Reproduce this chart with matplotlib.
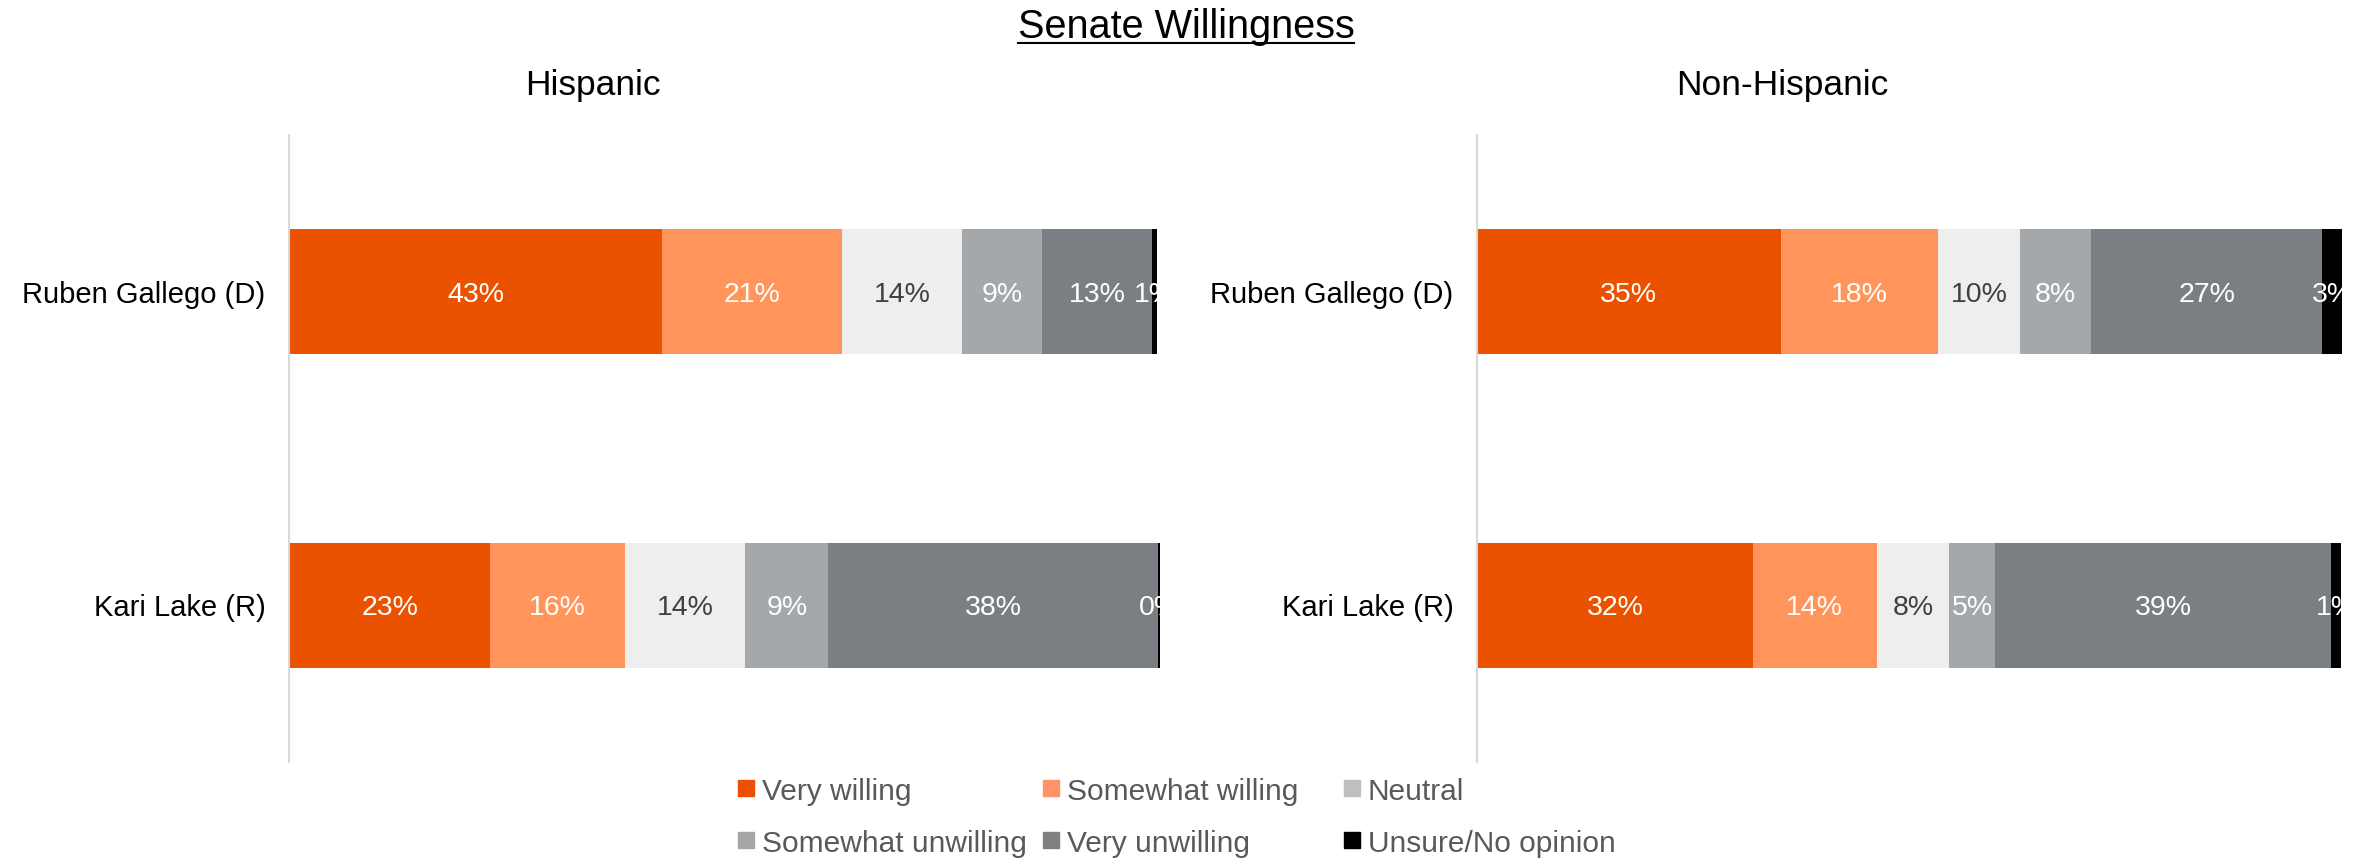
import matplotlib
matplotlib.use("Agg")
import matplotlib.pyplot as plt
import numpy as np
from matplotlib.patches import Rectangle
from matplotlib.lines import Line2D

plt.rcParams['font.family'] = ['Liberation Sans', 'DejaVu Sans']

"""Data"""
categories = ['Ruben Gallego (D)', 'Kari Lake (R)']
levels = ['Very willing', 'Somewhat willing', 'Neutral',
          'Somewhat unwilling', 'Very unwilling', 'Unsure/No opinion']

hisp_gallego = [42.8, 20.7, 13.8, 9.2, 12.6, 0.5]
hisp_lake = [23.1, 15.5, 13.8, 9.5, 37.9, 0.2]
nonhisp_gallego = [35.1, 18.2, 9.5, 8.2, 26.7, 2.3]
nonhisp_lake = [31.9, 14.3, 8.4, 5.3, 38.8, 1.2]

hisp_gallego_lbl = [43, 21, 14, 9, 13, 1]
hisp_lake_lbl = [23, 16, 14, 9, 38, 0]
nonhisp_gallego_lbl = [35, 18, 10, 8, 27, 3]
nonhisp_lake_lbl = [32, 14, 8, 5, 39, 1]

bar_colors = ['#EA5200', '#FF955B', '#EDEEED', '#A5A8AB', '#7B7F83', '#000000']
legend_colors = ['#EA5000', '#FF9366', '#BFBFBF', '#A6A6A6', '#808080', '#000000']
label_colors = ['white', 'white', '#404040', 'white', 'white', 'white']

W, H = 2369, 859
fig = plt.figure(figsize=(W / 100, H / 100), dpi=100)


def panel(rect, rows, row_labels, subtitle, sub_x):
    ax = fig.add_axes(rect)
    ypos = np.arange(len(categories))[::-1]
    for y, vals, lbls in zip(ypos, rows, row_labels):
        left = 0
        for v, l, c, tc in zip(vals, lbls, bar_colors, label_colors):
            ax.barh(y, v, left=left, height=0.4, color=c, edgecolor='none')
            ax.text(left + v / 2, y, f'{l}%', ha='center', va='center_baseline',
                    fontsize=20.5, color=tc, clip_on=True)
            left += v
    ax.set_xlim(0, 100)
    ax.set_ylim(-0.5, 1.5)
    ax.set_yticks(ypos)
    ax.set_yticklabels(categories, fontsize=21, color='black', va='center_baseline')
    ax.tick_params(axis='y', length=0, pad=17)
    ax.set_xticks([])
    for s in ['top', 'right', 'bottom']:
        ax.spines[s].set_visible(False)
    ax.spines['left'].set_color('#D9D9D9')
    ax.spines['left'].set_linewidth(1.5)
    fig.text(sub_x, 1 - 95 / H, subtitle, ha='center', va='baseline',
             fontsize=25.5, color='black')
    return ax


ax1 = panel([289 / W, 1 - 762 / H, 871 / W, 627 / H],
            [hisp_gallego, hisp_lake], [hisp_gallego_lbl, hisp_lake_lbl],
            'Hispanic', 593 / W)
ax2 = panel([1477 / W, 1 - 762 / H, 865 / W, 627 / H],
            [nonhisp_gallego, nonhisp_lake], [nonhisp_gallego_lbl, nonhisp_lake_lbl],
            'Non-Hispanic', 1782 / W)

"""Title with underline"""
title = fig.text(1186 / W, 1 - 38 / H, 'Senate Willingness', ha='center',
                 va='baseline', fontsize=28.5, color='black')
fig.canvas.draw()
bb = title.get_window_extent().transformed(fig.transFigure.inverted())
uy = 1 - 43 / H
fig.add_artist(Line2D([bb.x0, bb.x1], [uy, uy], color='black', lw=1.5,
                      transform=fig.transFigure))

"""Legend"""
col_x = [738, 1043, 1344]
row_y = [788, 840]
sq = 16
for i, (lab, c) in enumerate(zip(levels, legend_colors)):
    x = col_x[i % 3]
    y = row_y[i // 3]
    fig.patches.append(Rectangle((x / W, 1 - (y + sq / 2) / H), sq / W, sq / H,
                                 color=c, transform=fig.transFigure))
    fig.text((x + 24) / W, 1 - (y + 4) / H, lab, ha='left', va='center',
             fontsize=21.5, color='#595959')

fig.savefig('out.png', dpi=100)
